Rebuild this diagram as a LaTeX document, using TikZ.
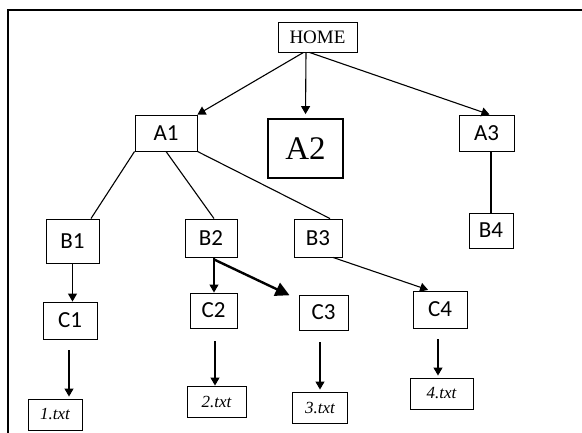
\documentclass[tikz,border=0pt]{standalone}
\usepackage{fontspec}
\setmainfont{Liberation Serif}
\newfontfamily\calibri{Carlito}
\usetikzlibrary{arrows.meta}

\begin{document}
\begin{tikzpicture}[x=1pt,y=-1pt,line width=1.1pt]
\tikzset{box/.style={draw,inner sep=0pt,line width=0.9pt,font=\calibri\fontsize{23}{23}\selectfont},
  filebox/.style={draw,inner sep=0pt,line width=0.9pt,font=\itshape\fontsize{17}{17}\selectfont},
  arr/.style={-{Triangle[length=8pt,width=9pt]}}}
\useasboundingbox (0,0) rectangle (582,433);
\draw[line width=1.3pt] (8,433)--(8,10)--(582,10);
% top levels
\node[box,font=\fontsize{19}{19}\selectfont,minimum width=79pt,minimum height=30pt] (home) at (317.5,37) {HOME};
\node[box,minimum width=62pt,minimum height=36pt] (a1) at (166,133) {A1};
\node[box,line width=1.8pt,font=\fontsize{33}{33}\selectfont,minimum width=75pt,minimum height=59pt] (a2) at (305.5,148.5) {A2};
\node[box,minimum width=55pt,minimum height=36pt] (a3) at (486.5,133) {A3};
\node[box,minimum width=53pt,minimum height=44pt] (b1) at (72.5,241) {B1};
\node[box,minimum width=52pt,minimum height=38pt] (b2) at (211,238) {B2};
\node[box,minimum width=48pt,minimum height=38pt] (b3) at (318,238) {B3};
\node[box,minimum width=44pt,minimum height=35pt] (b4) at (491,230.5) {B4};
\node[box,minimum width=54pt,minimum height=37pt] (c1) at (70,320.5) {C1};
\node[box,minimum width=47pt,minimum height=35pt] (c2) at (213.5,310.5) {C2};
\node[box,minimum width=49pt,minimum height=35pt] (c3) at (323.5,312.5) {C3};
\node[box,minimum width=54pt,minimum height=37pt] (c4) at (440,309.5) {C4};
% files
\node[filebox,minimum width=54pt,minimum height=31pt] (f1) at (55,414.5) {1.txt};
\node[filebox,minimum width=59pt,minimum height=31pt] (f2) at (216.5,401.5) {2.txt};
\node[filebox,minimum width=55pt,minimum height=31pt] (f3) at (320,407.5) {3.txt};
\node[filebox,minimum width=63pt,minimum height=31pt] (f4) at (441.5,393.5) {4.txt};

\draw[arr] ([xshift=-14pt]home.south) -- (a1.north east);
\draw[arr,shorten >=4pt] ([xshift=-11.5pt]home.south) -- (a2.north);
\draw[arr] ([xshift=-8pt]home.south) -- ([xshift=3pt]a3.north);
\draw (a1.south west) -- ([xshift=18.5pt]b1.north);
\draw (a1.south) -- ([xshift=3pt]b2.north);
\draw (a1.south east) -- ([xshift=12pt]b3.north);
\draw (b4.north |- a3.south) -- (b4.north);

\draw[arr] (b1.south) -- (b1.south |- c1.north);
\draw[arr] ([xshift=3pt]b2.south) -- ([xshift=3pt]b2.south |- c2.north);
\draw[line width=2.4pt,-{Triangle[length=14pt,width=14pt]},shorten >=10pt] ([xshift=3pt,yshift=-2pt]b2.south) -- ([yshift=-5pt]c3.north west);
\draw[arr,shorten >=2pt] ([xshift=15pt]b3.south) -- ([xshift=-10pt]c4.north);
\draw[arr,shorten <=11pt,shorten >=2pt] ([xshift=-1pt]c1.south) -- ([xshift=-1pt]c1.south |- f1.north);
\draw[arr,shorten <=13pt] ([xshift=1.5pt]c2.south) -- ([xshift=1.5pt]c2.south |- f2.north);
\draw[arr,shorten <=12pt,shorten >=2pt] (f3.north |- c3.south) -- (f3.north);
\draw[arr,shorten <=11pt,shorten >=2pt] ([xshift=-2pt]c4.south) -- ([xshift=-2pt]c4.south |- f4.north);
\end{tikzpicture}
\end{document}
